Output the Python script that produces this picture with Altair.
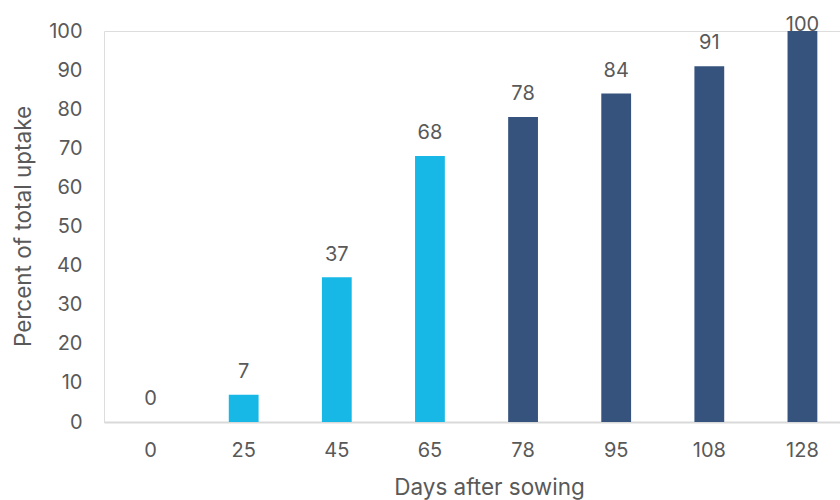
import altair as alt
import pandas as pd

# Cumulative uptake by sampling date
days = ["0", "25", "45", "65", "78", "95", "108", "128"]
uptake = [0, 7, 37, 68, 78, 84, 91, 100]
stage = ["early", "early", "early", "early", "late", "late", "late", "late"]

df = pd.DataFrame({"day": days, "uptake": uptake, "stage": stage})

FONT = "Inter"
TEXT = "#595959"

x_axis = alt.Axis(
    title="Days after sowing",
    labelAngle=0,
    ticks=False,
    domainColor="#d9d9d9",
    domainWidth=2,
    labelPadding=18,
    labelFont=FONT,
    labelFontSize=20,
    labelColor=TEXT,
    titleFont=FONT,
    titleFontSize=22.5,
    titleFontWeight="normal",
    titleColor=TEXT,
    titleX=385,
    titleY=72,
    titleBaseline="alphabetic",
    titleAlign="center",
)

y_axis = alt.Axis(
    title="Percent of total uptake",
    values=list(range(0, 101, 10)),
    labelOverlap=False,
    grid=False,
    domain=False,
    ticks=False,
    labelPadding=22,
    labelFont=FONT,
    labelFontSize=20,
    labelColor=TEXT,
    titleFont=FONT,
    titleFontSize=22.5,
    titleFontWeight="normal",
    titleColor=TEXT,
    titleX=-81,
    titleY=195,
    titleAlign="center",
    titleBaseline="middle",
)

x_scale = alt.Scale(paddingInner=0.68, paddingOuter=0.34, range=[0, 745])
y_scale = alt.Scale(domain=[0, 100], nice=False)

bars = alt.Chart(df).mark_bar().encode(
    x=alt.X("day:N", sort=days, scale=x_scale, axis=x_axis),
    y=alt.Y("uptake:Q", scale=y_scale, axis=y_axis),
    color=alt.Color(
        "stage:N",
        scale=alt.Scale(domain=["early", "late"], range=["#17b8e5", "#36537d"]),
        legend=None,
    ),
)

# Value labels sit above each bar, kept inside the plot area at the top
labels = (
    alt.Chart(df)
    .transform_calculate(label_pos="min(datum.uptake + 4.3, 100)")
    .mark_text(font=FONT, fontSize=20, color=TEXT, baseline="alphabetic")
    .encode(
        x=alt.X("day:N", sort=days, scale=x_scale, axis=x_axis),
        y=alt.Y("label_pos:Q", scale=y_scale, axis=y_axis),
        text=alt.Text("uptake:Q", format=".0f"),
    )
)

chart = (
    alt.layer(bars, labels)
    .properties(
        width=736,
        height=391,
        autosize=alt.AutoSizeParams(type="none"),
        padding={"left": 104, "top": 31, "right": 0, "bottom": 78},
    )
    .configure_view(strokeWidth=0, stroke="transparent")
    .configure(background="white")
)

chart.save("out.html", embed_options={"renderer": "svg", "actions": False})
